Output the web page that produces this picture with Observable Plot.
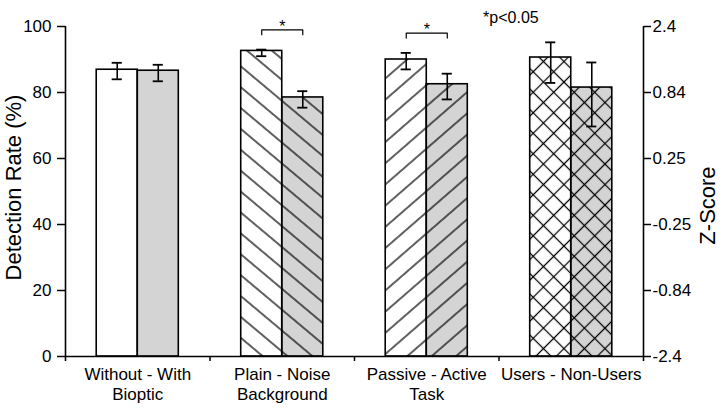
<!DOCTYPE html>
<html>
<head>
<meta charset="utf-8">
<script src="https://cdn.jsdelivr.net/npm/d3@7"></script>
<script src="https://cdn.jsdelivr.net/npm/@observablehq/plot@0.6"></script>
<style>
  html, body { margin: 0; padding: 0; background: #fff; }
  #chart svg { display: block; }
</style>
</head>
<body>
<div id="chart"></div>
<script>
// ---- data ----
const groups = ["Without - With\nBioptic", "Plain - Noise\nBackground", "Passive - Active\nTask", "Users - Non-Users"];
const patterns = ["none", "hatchBack", "hatchFwd", "crossHatch"];
const leftValues  = [86.9, 92.6, 90.0, 90.6];   // first condition (white bars)
const rightValues = [86.6, 78.5, 82.5, 81.5];   // second condition (grey bars)
const leftErrLow   = [84.0, 91.0, 87.0, 82.9];
const leftErrHigh  = [89.0, 93.0, 92.0, 95.2];
const rightErrLow  = [83.4, 75.4, 77.9, 69.7];
const rightErrHigh = [88.4, 80.4, 85.7, 89.1];
const sigGroups = [1, 2];
const sigLevels = [99, 98];
const yTicks = [0, 20, 40, 60, 80, 100];
const zLabels = ["-2.4", "-0.84", "-0.25", "0.25", "0.84", "2.4"];
const note = "*p<0.05";

// ---- build table ----
const BAR = 0.284;   // bar width in group units
const bars = [];
groups.forEach((g, i) => {
  bars.push({g: i, side: "left", x1: i - BAR, x2: i, v: leftValues[i], lo: leftErrLow[i], hi: leftErrHigh[i], pat: patterns[i], base: "white"});
  bars.push({g: i, side: "right", x1: i, x2: i + BAR, v: rightValues[i], lo: rightErrLow[i], hi: rightErrHigh[i], pat: patterns[i], base: "#d4d4d4"});
});
bars.forEach(d => d.xc = (d.x1 + d.x2) / 2);
const CAP = 0.035;
const brackets = sigGroups.map((g, k) => ({g, y: sigLevels[k], xa: g - BAR / 2, xb: g + BAR / 2}));
const bracketPaths = [];
brackets.forEach((b, k) => {
  bracketPaths.push({id: k, x: b.xa, y: b.y - 1.5});
  bracketPaths.push({id: k, x: b.xa, y: b.y});
  bracketPaths.push({id: k, x: b.xb, y: b.y});
  bracketPaths.push({id: k, x: b.xb, y: b.y - 1.5});
});

const font = "'Liberation Sans', Arial, Helvetica, sans-serif";

const chart = Plot.plot({
  width: 724,
  height: 409,
  marginLeft: 65,
  marginRight: 81,
  marginTop: 26,
  marginBottom: 53,
  style: {fontFamily: font, fontSize: "16px", color: "#000", background: "#fff"},
  x: {domain: [-0.5, 3.5], axis: null},
  y: {domain: [0, 100], axis: null},
  marks: [
    Plot.rectY(bars, {x1: "x1", x2: "x2", y1: 0, y2: "v", fill: d => d.base}),
    ...patterns.filter(p => p !== "none").map(p =>
      Plot.rectY(bars.filter(d => d.pat === p), {x1: "x1", x2: "x2", y1: 0, y2: "v", fill: `url(#${p})`})
    ),
    Plot.rectY(bars, {x1: "x1", x2: "x2", y1: 0, y2: "v", fill: "none", stroke: "#000", strokeWidth: 1.6}),
    Plot.ruleX(bars, {x: "xc", y1: "lo", y2: "hi", stroke: "#000", strokeWidth: 1.6}),
    Plot.ruleY(bars, {y: "lo", x1: d => d.xc - CAP, x2: d => d.xc + CAP, stroke: "#000", strokeWidth: 1.8}),
    Plot.ruleY(bars, {y: "hi", x1: d => d.xc - CAP, x2: d => d.xc + CAP, stroke: "#000", strokeWidth: 1.8}),
    Plot.line(bracketPaths, {x: "x", y: "y", z: "id", stroke: "#000", strokeWidth: 1.2}),
    Plot.text(brackets, {x: "g", y: "y", text: () => "*", dy: -3, lineAnchor: "middle", fontSize: 16}),
    Plot.text([note], {x: 2.39, y: 100, dy: -9, textAnchor: "start", fontSize: 16}),
    Plot.ruleY([0], {stroke: "#000", strokeWidth: 1.6}),
    Plot.ruleX([-0.5, 3.5], {stroke: "#000", strokeWidth: 1.6, insetBottom: -5}),
    Plot.axisY({anchor: "left", ticks: yTicks, tickSize: 8, tickPadding: 6, label: null, fontSize: 17, strokeWidth: 1.5}),
    Plot.axisY({anchor: "right", ticks: yTicks, tickSize: 7, tickPadding: 2, label: null, fontSize: 17, strokeWidth: 1.5,
      tickFormat: d => zLabels[yTicks.indexOf(d)]}),
    Plot.axisX({ticks: [0.5, 1.5, 2.5], tickSize: 5, tickFormat: () => "", label: null, strokeWidth: 1.5}),
    Plot.axisX({ticks: [0, 1, 2, 3], tickSize: 0, tickPadding: 9, tickFormat: i => groups[i], label: null, fontSize: 17, lineHeight: 1.18}),
    Plot.text(["Detection Rate (%)"], {frameAnchor: "left", textAnchor: "middle", dx: -52, dy: -4, rotate: -90, fontSize: 22}),
    Plot.text(["Z-Score"], {frameAnchor: "right", textAnchor: "middle", dx: 64, dy: 14, rotate: -90, fontSize: 22})
  ]
});

const ns = "http://www.w3.org/2000/svg";
const defs = document.createElementNS(ns, "defs");
defs.innerHTML = `
  <pattern id="hatchBack" patternUnits="userSpaceOnUse" width="16" height="16" patternTransform="rotate(40)">
    <line x1="0" y1="8" x2="16" y2="8" stroke="#000" stroke-width="1.25"/>
  </pattern>
  <pattern id="hatchFwd" patternUnits="userSpaceOnUse" width="16" height="16" patternTransform="rotate(-41)">
    <line x1="0" y1="8" x2="16" y2="8" stroke="#000" stroke-width="1.25"/>
  </pattern>
  <pattern id="crossHatch" patternUnits="userSpaceOnUse" width="14.5" height="14.5" patternTransform="rotate(45)">
    <line x1="0" y1="7.25" x2="14.5" y2="7.25" stroke="#000" stroke-width="1.25"/>
    <line x1="7.25" y1="0" x2="7.25" y2="14.5" stroke="#000" stroke-width="1.25"/>
  </pattern>`;
chart.insertBefore(defs, chart.firstChild);
document.getElementById("chart").appendChild(chart);
</script>
</body>
</html>
